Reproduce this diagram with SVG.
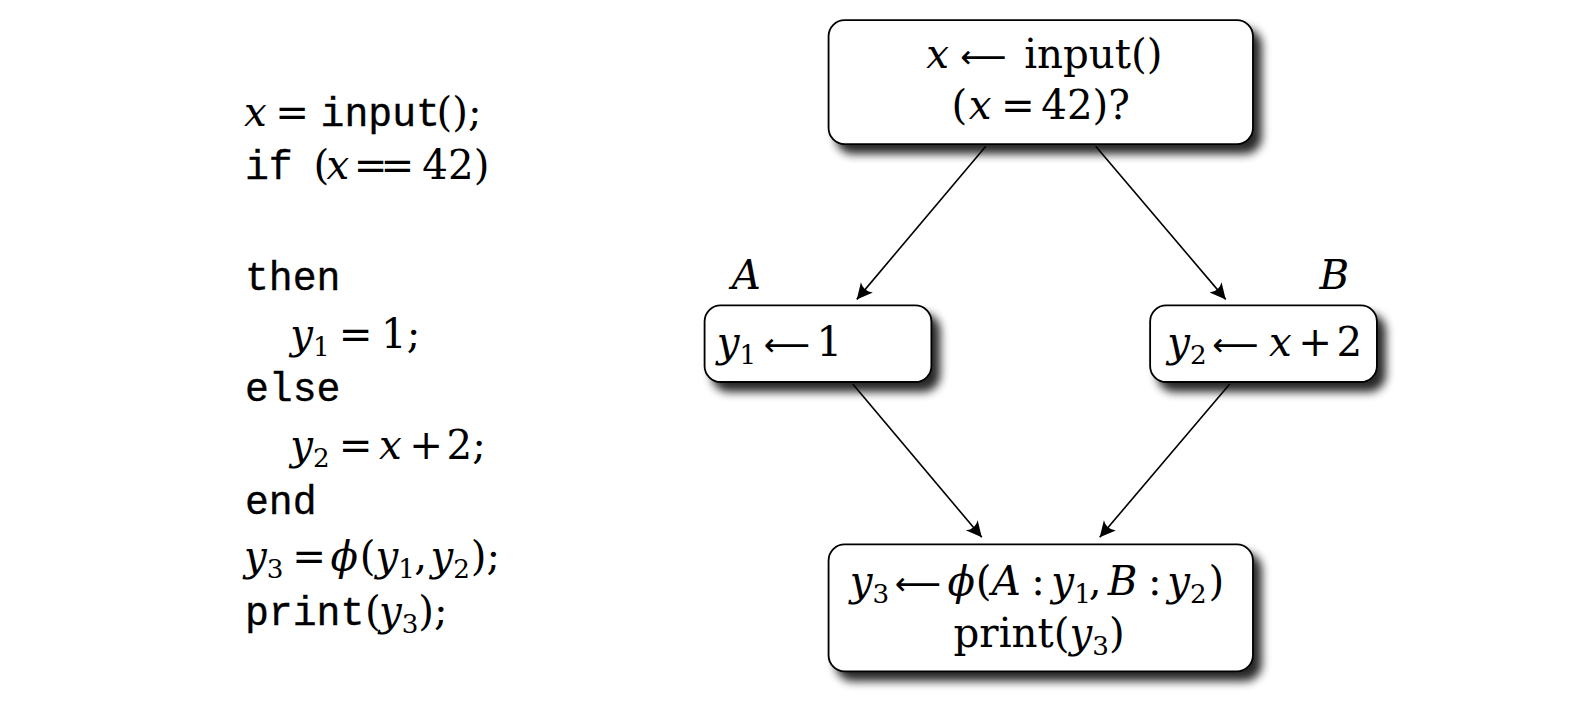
<svg xmlns="http://www.w3.org/2000/svg" width="1580" height="706" viewBox="0 0 1580 706">
<style>
.s{font-family:"DejaVu Serif","Liberation Serif",serif;font-size:40px;fill:#000}
.i{font-style:italic}
.m{font-family:"Liberation Mono","DejaVu Sans Mono",monospace;font-size:39.5px;stroke:#000;stroke-width:0.35}
.sub{font-size:26px}
.ar{font-family:"DejaVu Sans",sans-serif;font-size:32px}
.box{fill:#fff;stroke:#000;stroke-width:1.8}
.edge{stroke:#000;stroke-width:1.6;fill:none;marker-end:url(#ah)}
</style>
<defs>
<filter id="sh" x="-10%" y="-10%" width="130%" height="150%">
<feGaussianBlur in="SourceAlpha" stdDeviation="5"/>
<feOffset dx="8" dy="9"/>
<feComponentTransfer><feFuncA type="linear" slope="0.85"/></feComponentTransfer>
<feMerge><feMergeNode/><feMergeNode in="SourceGraphic"/></feMerge>
</filter>
<marker id="ah" markerUnits="userSpaceOnUse" markerWidth="20" markerHeight="20" viewBox="-16 -8 18 16" refX="0" refY="0" orient="auto">
<path d="M0,0 L-14,-7 Q-9,0 -14,7 Z" fill="#000"/>
</marker>
</defs>
<rect width="1580" height="706" fill="#fff"/>
<g transform="scale(1.008)">
<g id="code" class="s">
<text y="125"><tspan class="i" x="242">x</tspan><tspan x="273">=</tspan><tspan class="m" x="318">input</tspan><tspan x="433">();</tspan></text>
<text y="178"><tspan class="m" x="243">if</tspan><tspan x="311">(</tspan><tspan class="i" x="324">x</tspan><tspan x="351" letter-spacing="-7">==</tspan><tspan x="419">42)</tspan></text>
<text class="m" x="243" y="288">then</text>
<text y="345"><tspan class="i" x="288">y</tspan><tspan class="sub" dy="8">1</tspan><tspan x="336" dy="-8">=</tspan><tspan x="378">1;</tspan></text>
<text class="m" x="243" y="398">else</text>
<text y="455"><tspan class="i" x="288">y</tspan><tspan class="sub" dy="8">2</tspan><tspan x="336" dy="-8">=</tspan><tspan class="i" x="376">x</tspan><tspan x="406">+</tspan><tspan x="443">2;</tspan></text>
<text class="m" x="243" y="510">end</text>
<text y="565"><tspan class="i" x="242">y</tspan><tspan class="sub" dy="8">3</tspan><tspan x="290" dy="-8">=</tspan><tspan class="i" x="328">ϕ</tspan><tspan x="357">(</tspan><tspan class="i">y</tspan><tspan class="sub" dy="8">1</tspan><tspan x="411" dy="-8">,</tspan><tspan class="i" x="427">y</tspan><tspan class="sub" dy="8">2</tspan><tspan x="467" dy="-8">);</tspan></text>
<text y="620"><tspan class="m" x="243">print</tspan><tspan x="362">(</tspan><tspan class="i" x="376">y</tspan><tspan class="sub" dy="8">3</tspan><tspan x="415" dy="-8">);</tspan></text>
</g>

<g id="edges">
<line class="edge" x1="978" y1="145" x2="850" y2="297"/>
<line class="edge" x1="1087" y1="145" x2="1216" y2="297"/>
<line class="edge" x1="846" y1="381" x2="974" y2="533"/>
<line class="edge" x1="1220" y1="381" x2="1091" y2="533"/>
</g>

<g id="n_top">
<rect class="box" x="822" y="20" width="421" height="123" rx="16" filter="url(#sh)"/>
<text class="s" y="67"><tspan class="i" x="919">x</tspan><tspan class="ar" x="953">⟵</tspan><tspan x="1016">input()</tspan></text>
<text class="s" y="118"><tspan x="944">(</tspan><tspan class="i" x="961">x</tspan><tspan x="993">=</tspan><tspan x="1033">42)?</tspan></text>
</g>

<g id="n_A">
<rect class="box" x="699" y="303" width="225" height="76" rx="16" filter="url(#sh)"/>
<text class="s" y="353"><tspan class="i" x="711">y</tspan><tspan class="sub" dy="8">1</tspan><tspan class="ar" x="758" dy="-8">⟵</tspan><tspan x="810">1</tspan></text>
</g>
<text id="lbl_A" class="s i" x="726" y="287">A</text>

<g id="n_B">
<rect class="box" x="1141" y="303" width="225" height="76" rx="16" filter="url(#sh)"/>
<text class="s" y="353"><tspan class="i" x="1158">y</tspan><tspan class="sub" dy="8">2</tspan><tspan class="ar" x="1203" dy="-8">⟵</tspan><tspan class="i" x="1259">x</tspan><tspan x="1288">+</tspan><tspan x="1326">2</tspan></text>
</g>
<text id="lbl_B" class="s i" x="1309" y="287">B</text>

<g id="n_bot">
<rect class="box" x="822" y="540" width="421" height="126" rx="16" filter="url(#sh)"/>
<text class="s" y="590"><tspan class="i" x="843">y</tspan><tspan class="sub" dy="8">3</tspan><tspan class="ar" x="888" dy="-8">⟵</tspan><tspan class="i" x="940">ϕ</tspan><tspan x="968">(</tspan><tspan class="i" x="984">A</tspan><tspan x="1023">:</tspan><tspan class="i" x="1043">y</tspan><tspan class="sub" dy="8">1</tspan><tspan x="1080" dy="-8">,</tspan><tspan class="i" x="1099">B</tspan><tspan x="1139">:</tspan><tspan class="i" x="1158">y</tspan><tspan class="sub" dy="8">2</tspan><tspan x="1199" dy="-8">)</tspan></text>
<text class="s" y="642"><tspan x="946">print(</tspan><tspan class="i">y</tspan><tspan class="sub" dy="8">3</tspan><tspan dy="-8">)</tspan></text>
</g>
</g>
</svg>
